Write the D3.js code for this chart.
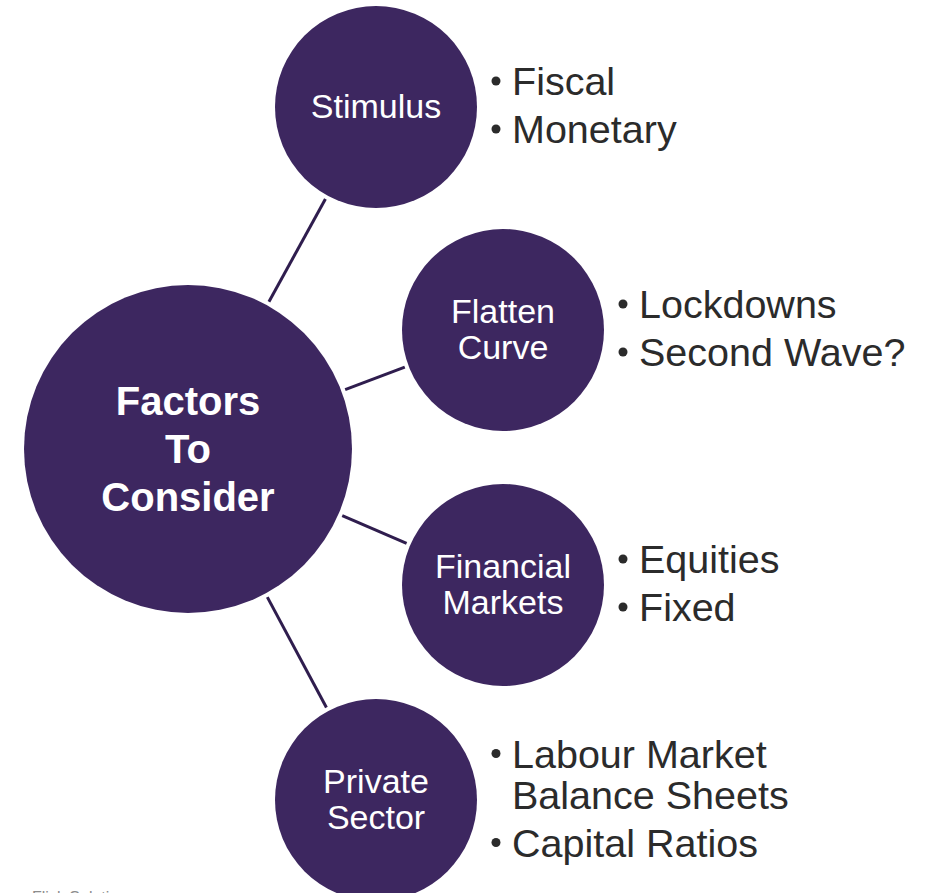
<!DOCTYPE html>
<html>
<head>
<meta charset="utf-8">
<script src="https://cdn.jsdelivr.net/npm/d3@7"></script>
<style>
  html, body { margin: 0; padding: 0; background: #fff; }
  svg { display: block; }
</style>
</head>
<body>
<div id="chart"></div>
<script>
// content
const centreLabel = ['Factors', 'To', 'Consider'];
const topics = ['Stimulus', 'Flatten Curve', 'Financial Markets', 'Private Sector'];
const topicLines = [['Stimulus'], ['Flatten', 'Curve'], ['Financial', 'Markets'], ['Private', 'Sector']];
const bullets = [
  [['Fiscal'], ['Monetary']],
  [['Lockdowns'], ['Second Wave?']],
  [['Equities'], ['Fixed']],
  [['Labour Market', 'Balance Sheets'], ['Capital Ratios']]
];
const footnote = 'Flick Solutions';

// layout (kept apart from the content)
const width = 928, height = 893;
const purple = '#3d2760';
const lineColor = '#2f1d4e';
const font = '"Liberation Sans", Arial, sans-serif';
const centre = { x: 188, y: 449, r: 164 };
const satR = 101;
const satPos = [
  { x: 376, y: 107 },
  { x: 503, y: 330 },
  { x: 503, y: 585 },
  { x: 376, y: 800 }
];

const svg = d3.select('#chart').append('svg')
  .attr('width', width)
  .attr('height', height);

const nodes = topics.map((t, i) => ({
  name: t,
  lines: topicLines[i],
  bullets: bullets[i],
  x: satPos[i].x,
  y: satPos[i].y
}));

// connectors, with a small gap before each circle edge
const gap = 4;
const ang = d => Math.atan2(d.y - centre.y, d.x - centre.x);
svg.append('g').selectAll('line')
  .data(nodes)
  .join('line')
  .attr('x1', d => centre.x + Math.cos(ang(d)) * (centre.r + gap))
  .attr('y1', d => centre.y + Math.sin(ang(d)) * (centre.r + gap))
  .attr('x2', d => d.x - Math.cos(ang(d)) * (satR + gap))
  .attr('y2', d => d.y - Math.sin(ang(d)) * (satR + gap))
  .attr('stroke', lineColor)
  .attr('stroke-width', 3);

// centre circle
svg.append('circle')
  .attr('cx', centre.x)
  .attr('cy', centre.y)
  .attr('r', centre.r)
  .attr('fill', purple);

svg.append('text')
  .attr('text-anchor', 'middle')
  .style('font-family', font)
  .style('font-weight', 'bold')
  .style('font-size', '40px')
  .attr('fill', '#fff')
  .selectAll('tspan')
  .data(centreLabel)
  .join('tspan')
  .attr('x', centre.x)
  .attr('y', (d, i) => centre.y - 34 + i * 48)
  .text(d => d);

// satellites
const sat = svg.append('g').selectAll('g')
  .data(nodes)
  .join('g')
  .attr('transform', d => `translate(${d.x},${d.y})`);

sat.append('circle')
  .attr('r', satR)
  .attr('fill', purple);

sat.append('text')
  .attr('text-anchor', 'middle')
  .style('font-family', font)
  .style('font-size', '34px')
  .attr('fill', '#fff')
  .selectAll('tspan')
  .data(d => d.lines.map((l, i) => ({ l, i, n: d.lines.length })))
  .join('tspan')
  .attr('x', 0)
  .attr('y', d => 11 + (d.i - (d.n - 1) / 2) * 36)
  .text(d => d.l);

// bullet lists to the right of each satellite
sat.each(function (d) {
  const g = d3.select(this);
  const rows = [];
  d.bullets.forEach(item => {
    item.forEach((txt, k) => rows.push({ txt, first: k === 0 }));
  });
  let y = 0;
  const ys = [];
  rows.forEach((r, i) => {
    if (i > 0) y += r.first ? 48 : 41;
    ys.push(y);
  });
  const mid = (ys[0] + ys[ys.length - 1]) / 2;
  const x0 = satR + 12;
  const grp = g.append('g')
    .style('font-family', font)
    .style('font-size', '39.5px')
    .attr('fill', '#2b2b2b');
  rows.forEach((r, i) => {
    const by = ys[i] - mid + 12;
    if (r.first) {
      grp.append('circle')
        .attr('cx', x0 + 7)
        .attr('cy', by - 14)
        .attr('r', 4.5)
        .attr('fill', '#2b2b2b');
    }
    grp.append('text')
      .attr('x', x0 + 23)
      .attr('y', by)
      .text(r.txt);
  });
});

// footnote, mostly below the frame
svg.append('text')
  .attr('x', 32)
  .attr('y', 903)
  .style('font-family', font)
  .style('font-size', '16px')
  .attr('fill', '#8c8c8c')
  .text(footnote);
</script>
</body>
</html>
